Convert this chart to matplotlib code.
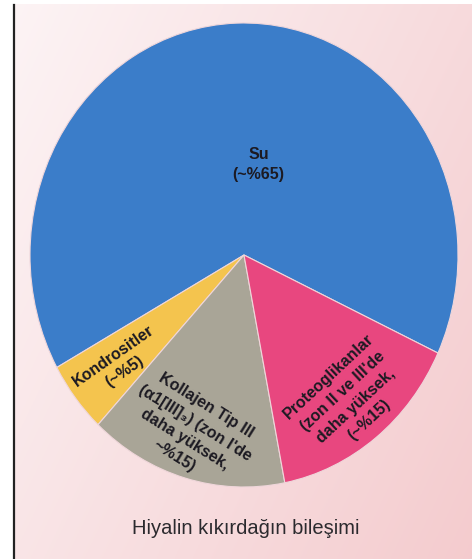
import numpy as np
import matplotlib.pyplot as plt
from matplotlib.lines import Line2D

# composition of hyaline cartilage (approximate %)
labels = [
    "Su\n(~%65)",
    "Kondrositler\n(~%5)",
    "Kollajen Tip III\n(\u03b11[III]\u2083) (zon I'de\ndaha yüksek,\n~%15)",
    "Proteoglikanlar\n(zon II ve III'de\ndaha yüksek,\n(~%15)",
]
values = [65, 5, 15, 15]
colors = ["#3b7dc9", "#f4c44e", "#a9a597", "#e8477f"]
caption = "Hiyalin kıkırdağın bileşimi"

# label placement: polar position (radius fraction, angle) and rotation
label_r = [0.395, 0.75, 0.80, 0.79]
label_theta = [80, 218.7, 251.6, 308.5]
label_rot = [0, 35, -32, 43]

W, H = 477, 559
fig = plt.figure(figsize=(W / 100, H / 100), dpi=100)
fig.patch.set_facecolor("white")

# scanned page background (slight pink gradient)
bg = fig.add_axes([15 / W, 0, (472 - 15) / W, 1 - 4 / H])
X, Y = np.meshgrid(np.linspace(0, 1, 200), np.linspace(0, 1, 200))
t = np.clip(0.6 * X + 0.35 * Y, 0, 1)
c0 = np.array([0.99, 0.955, 0.96])
c1 = np.array([0.955, 0.79, 0.80])
img = c0[None, None, :] * (1 - t[..., None]) + c1[None, None, :] * t[..., None]
bg.imshow(img, aspect="auto", extent=[0, 1, 0, 1], origin="upper")
bg.axis("off")
fig.add_artist(Line2D([14 / W, 14 / W], [0, 1 - 5 / H], color="#222222", lw=1.6))

ax = fig.add_axes([30 / W, (H - 487) / H, 428 / W, 464 / H])
ax.patch.set_alpha(0)
wedges, _ = ax.pie(
    values,
    colors=colors,
    startangle=-25,
    counterclock=True,
    wedgeprops=dict(edgecolor="#efd6da", linewidth=0.8),
)
ax.set_aspect("auto")
ax.set_xlim(-1, 1)
ax.set_ylim(-1, 1)
ax.axis("off")

for lab, r, th, rot in zip(labels, label_r, label_theta, label_rot):
    a = np.deg2rad(th)
    ax.text(r * np.cos(a), r * np.sin(a), lab, ha="center", va="center",
            rotation=rot, rotation_mode="anchor", multialignment="center",
            fontsize=11.5, fontweight="bold", family="Liberation Sans",
            color="#1c1a22", linespacing=1.4)

fig.text(246 / W, 1 - 529 / H, caption, ha="center", va="center",
         fontsize=14.5, family="Liberation Sans", color="#2b2a2e")

fig.savefig("out.png", dpi=100)
